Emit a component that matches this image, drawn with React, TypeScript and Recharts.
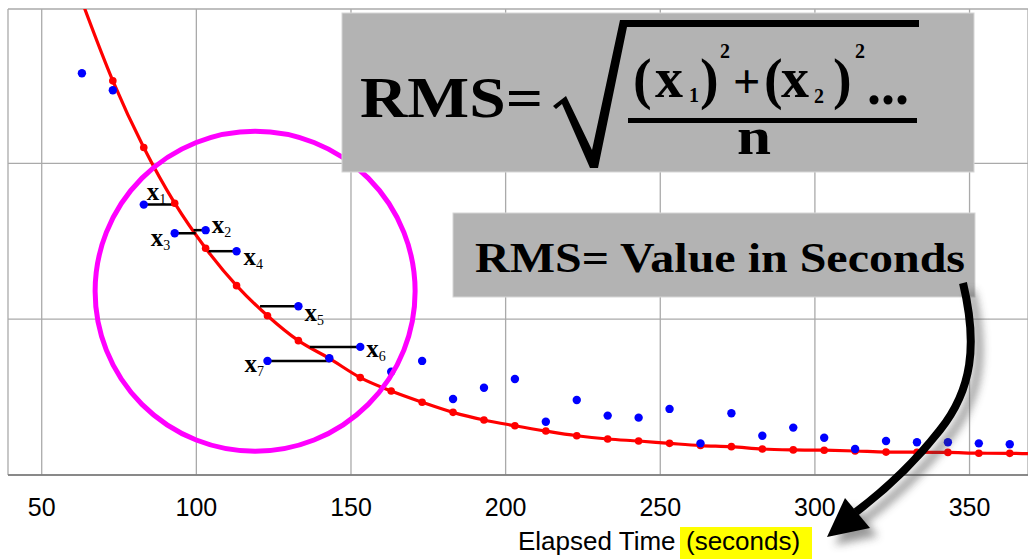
import React from 'react';
import {
  ComposedChart,
  Line,
  Scatter,
  XAxis,
  YAxis,
  CartesianGrid,
  ReferenceLine,
  ReferenceDot,
} from 'recharts';

// ---------- data ----------
const xTicks = [50, 100, 150, 200, 250, 300, 350];
const yGridValues = [0, 1, 2];

const observedTimes = [
  63, 73, 83, 93, 103, 113, 123, 133, 143, 153, 163, 173, 183, 193, 203, 213,
  223, 233, 243, 253, 263, 273, 283, 293, 303, 313, 323, 333, 343, 353, 363,
];
const observedValues = [
  2.578, 2.469, 1.735, 1.551, 1.571, 1.436, 0.732, 1.083, 0.749, 0.822, 0.663,
  0.732, 0.488, 0.56, 0.616, 0.342, 0.481, 0.381, 0.368, 0.424, 0.203, 0.396,
  0.252, 0.304, 0.239, 0.167, 0.218, 0.21, 0.21, 0.203, 0.197,
];

const fittedTimes = [
  73, 83, 93, 103, 113, 123, 133, 143, 153, 163, 173, 183, 193, 203, 213, 223,
  233, 243, 253, 263, 273, 283, 293, 303, 313, 323, 333, 343, 353, 363,
];
const fittedValues = [
  2.529, 2.101, 1.744, 1.455, 1.215, 1.022, 0.862, 0.748, 0.625, 0.539, 0.467,
  0.402, 0.353, 0.316, 0.282, 0.252, 0.231, 0.218, 0.203, 0.189, 0.182, 0.167,
  0.161, 0.159, 0.154, 0.147, 0.146, 0.145, 0.14, 0.139,
];
// the fitted curve continues past the first/last fitted sample
const curveLeadIn = { t: 63, v: 3.04 };
const curveTail = { t: 369, v: 0.137 };

// horizontal (time) errors between observation and curve
const errNames = ['1', '2', '3', '4', '5', '6', '7'];
const errObsTimes = [83, 103, 93, 113, 133, 153, 123];
const errCurveTimes = [93.1, 99.1, 99.8, 103.9, 120.6, 136.7, 143];
const errValues = [1.735, 1.571, 1.551, 1.436, 1.083, 0.822, 0.732];

// highlight circle centre (data units)
const circleCenter = { t: 119, v: 1.179 };

// ---------- derived tables ----------
const observedData = observedTimes.map((t, i) => ({ t, v: observedValues[i] }));
const fittedData = fittedTimes.map((t, i) => ({ t, v: fittedValues[i] }));
const curveData = [curveLeadIn, ...fittedData, curveTail];
const errSegments = errNames.map((name, i) => ({
  name,
  obsT: errObsTimes[i],
  curveT: errCurveTimes[i],
  v: errValues[i],
}));

// label placement relative to the observed point (px)
const labelOffsets: [number, number][] = [
  [3, -5],
  [6, 3],
  [-24, 13],
  [7, 14],
  [6, 15],
  [6, 10],
  [-23, 11],
];

const SANS = "'Liberation Sans', Arial, Helvetica, sans-serif";
const SERIF = "'Palatino Linotype', 'Book Antiqua', Palatino, 'Liberation Serif', serif";

const BlueDot = (p: any) => <circle cx={p.cx} cy={p.cy} r={4.2} fill="#0000ff" />;
const RedDot = (p: any) => <circle cx={p.cx} cy={p.cy} r={3.8} fill="#ff0000" />;

const AxisTitle = (props: any) => {
  const vb = props.viewBox;
  const cx = vb.x + vb.width / 2;
  const top = vb.y;
  return (
    <g>
      <rect x={cx + 162} y={top + 52} width={132} height={32} fill="#ffff00" />
      <text x={cx} y={top + 75} fontFamily={SANS} fontSize={26} fill="#000">
        Elapsed Time
      </text>
      <text x={cx + 168} y={top + 75} fontFamily={SANS} fontSize={26} fill="#000">
        (seconds)
      </text>
    </g>
  );
};

const makeErrLabel = (seg: any, off: [number, number]) => (props: any) => {
  const vb = props.viewBox;
  if (!vb) return null;
  const bx = seg.obsT < seg.curveT ? vb.x : vb.x + vb.width;
  const by = vb.y;
  return (
    <text
      x={bx + off[0]}
      y={by + off[1]}
      fontFamily={SERIF}
      fontWeight={700}
      fontSize={25}
      fill="#000"
    >
      x
      <tspan fontSize={14} fontWeight={400} dy={4}>
        {seg.name}
      </tspan>
    </text>
  );
};

const Overlay = () => (
  <svg
    width={1028}
    height={559}
    style={{ position: 'absolute', left: 0, top: 0, pointerEvents: 'none' }}
  >
    <defs>
      <filter id="shadowBlur" x="-20%" y="-20%" width="140%" height="140%">
        <feGaussianBlur stdDeviation={4} />
      </filter>
    </defs>
    {/* formula box */}
    <rect x={342} y={13} width={632} height={159} fill="#b3b3b3" stroke="#d6d6d6" strokeWidth={1} />
    <g fontFamily={SERIF} fontWeight={700} fill="#000">
      <text x={360} y={117} fontSize={58} textLength={183} lengthAdjust="spacingAndGlyphs">
        RMS=
      </text>
      <polygon
        points="553,106 566,96 592,150 620,20 919,20 919,27 627,27 598,168 590,168 562,104 556,109"
        fill="#000"
      />
      <text x={633} y={98} fontSize={56}>(</text>
      <text x={655} y={97} fontSize={56}>x</text>
      <text x={689} y={102} fontSize={20}>1</text>
      <text x={700} y={98} fontSize={56}>)</text>
      <text x={720} y={58} fontSize={20}>2</text>
      <text x={733} y={98} fontSize={48}>+</text>
      <text x={764} y={98} fontSize={56}>(</text>
      <text x={781} y={97} fontSize={56}>x</text>
      <text x={814} y={103} fontSize={20}>2</text>
      <text x={833} y={98} fontSize={56}>)</text>
      <text x={855} y={58} fontSize={20}>2</text>
      <text x={867} y={104} fontSize={56}>...</text>
      <rect x={628} y={118} width={289} height={5} fill="#000" />
      <text x={737} y={154} fontSize={52} textLength={34} lengthAdjust="spacingAndGlyphs">
        n
      </text>
    </g>

    {/* value box */}
    <rect x={453} y={213} width={522} height={84} fill="#b3b3b3" stroke="#d6d6d6" strokeWidth={1} />
    <text
      x={475}
      y={272}
      fontFamily={SERIF}
      fontWeight={700}
      fontSize={43}
      fill="#000"
      textLength={490}
      lengthAdjust="spacingAndGlyphs"
    >
      RMS= Value in Seconds
    </text>

    {/* curved arrow with shadow */}
    <g transform="translate(8,8)" opacity={0.55} filter="url(#shadowBlur)">
      <path
        d="M 963 283 C 978 345, 972 390, 940 430 C 915 462, 885 490, 856 512"
        stroke="#444"
        strokeWidth={8}
        fill="none"
      />
      <polygon points="827,537 845,498 870,528" fill="#444" />
    </g>
    <path
      d="M 963 283 C 978 345, 972 390, 940 430 C 915 462, 885 490, 856 512"
      stroke="#000"
      strokeWidth={8}
      fill="none"
    />
    <polygon points="827,537 845,498 870,528" fill="#000" />
  </svg>
);

export default function App() {
  return (
    <div style={{ position: 'absolute', left: 0, top: 0, width: 1028, height: 559, background: '#fff' }}>
      <ComposedChart width={1028} height={559} margin={{ top: 9, right: 0, bottom: 0, left: 8 }}>
        <CartesianGrid stroke="#aaaaaa" strokeWidth={1.3} />
        <XAxis
          dataKey="t"
          type="number"
          domain={[39.1, 368.9]}
          allowDataOverflow
          ticks={xTicks}
          tickLine={false}
          tickMargin={17}
          height={84}
          axisLine={{ stroke: '#777', strokeWidth: 1.5 }}
          tick={{ fill: '#000', fontSize: 25, fontFamily: SANS }}
          label={(props: any) => <AxisTitle {...props} />}
        />
        <YAxis dataKey="v" type="number" domain={[0, 2.99]} ticks={yGridValues} allowDataOverflow hide />
        <Line
          data={curveData}
          dataKey="v"
          type="monotone"
          stroke="#ff0000"
          strokeWidth={3.2}
          dot={false}
          isAnimationActive={false}
        />
        {errSegments.map((seg, i) => (
          <ReferenceLine
            key={'seg' + seg.name}
            segment={[
              { x: seg.obsT, y: seg.v },
              { x: seg.curveT, y: seg.v },
            ]}
            stroke="#000"
            strokeWidth={2.5}
            label={makeErrLabel(seg, labelOffsets[i])}
          />
        ))}
        <Scatter data={fittedData} dataKey="v" shape={RedDot} isAnimationActive={false} />
        <Scatter data={observedData} dataKey="v" shape={BlueDot} isAnimationActive={false} />
        <ReferenceDot
          x={circleCenter.t}
          y={circleCenter.v}
          r={160}
          fill="none"
          stroke="#ff00ff"
          strokeWidth={5}
          ifOverflow="visible"
        />
      </ComposedChart>
      <Overlay />
    </div>
  );
}
